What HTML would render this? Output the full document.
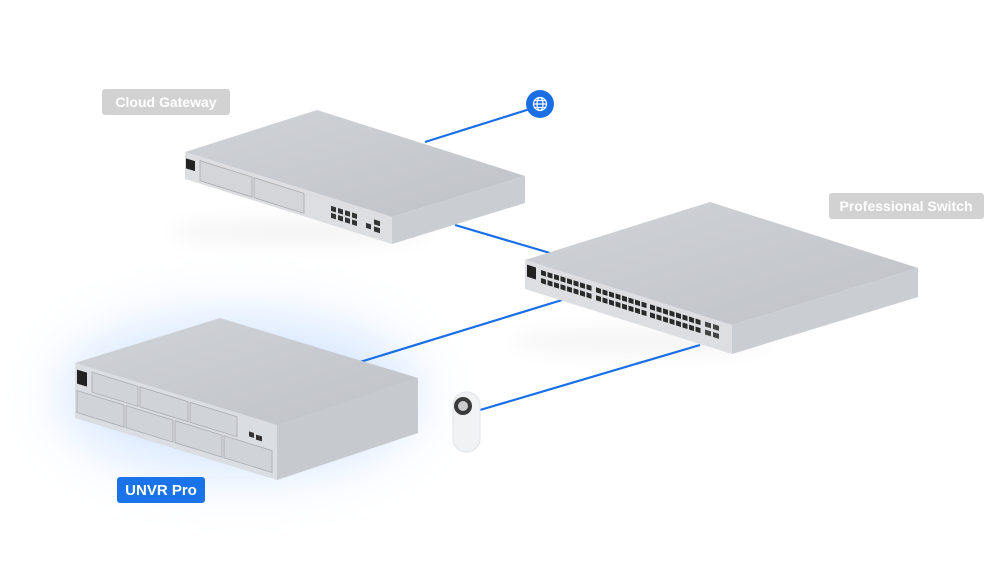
<!DOCTYPE html>
<html><head><meta charset="utf-8"><style>
html,body{margin:0;padding:0;background:#fff;}
svg{display:block}
.lbl{font-family:"Liberation Sans",sans-serif;font-weight:bold;font-size:14px;fill:#fff}
</style></head><body>
<svg width="1000" height="573" viewBox="0 0 1000 573" xmlns="http://www.w3.org/2000/svg">
<defs>
<filter id="b1" x="-50%" y="-50%" width="200%" height="200%"><feGaussianBlur stdDeviation="28"/></filter>
<filter id="b2" x="-50%" y="-50%" width="200%" height="200%"><feGaussianBlur stdDeviation="10"/></filter>
<linearGradient id="top" x1="0" y1="0" x2="1" y2="1"><stop offset="0" stop-color="#d0d3d7"/><stop offset="1" stop-color="#bfc2c7"/></linearGradient>
<g id="grp"><rect x="0" y="5" width="5" height="5"/><rect x="6.5" y="5" width="5" height="5"/><rect x="13" y="5" width="5" height="5"/><rect x="19.5" y="5" width="5" height="5"/><rect x="26" y="5" width="5" height="5"/><rect x="32.5" y="5" width="5" height="5"/><rect x="39" y="5" width="5" height="5"/><rect x="45.5" y="5" width="5" height="5"/>
<rect x="0" y="13" width="5" height="5"/><rect x="6.5" y="13" width="5" height="5"/><rect x="13" y="13" width="5" height="5"/><rect x="19.5" y="13" width="5" height="5"/><rect x="26" y="13" width="5" height="5"/><rect x="32.5" y="13" width="5" height="5"/><rect x="39" y="13" width="5" height="5"/><rect x="45.5" y="13" width="5" height="5"/></g>
</defs>
<!-- glow -->
<ellipse cx="240" cy="395" rx="180" ry="80" fill="#a8caff" opacity="0.45" filter="url(#b1)"/>
<!-- shadows -->
<ellipse cx="300" cy="232" rx="130" ry="14" fill="#000" opacity="0.04" filter="url(#b2)"/>
<ellipse cx="640" cy="342" rx="130" ry="14" fill="#000" opacity="0.04" filter="url(#b2)"/>
<!-- lines -->
<g stroke="#1a6fe6" stroke-width="2.2" fill="none">
<line x1="425" y1="142" x2="530" y2="109"/>
<line x1="455" y1="225" x2="550" y2="253"/>
<line x1="360" y1="362" x2="562" y2="300"/>
<line x1="480" y1="410" x2="700" y2="345"/>
</g>
<!-- globe -->
<circle cx="540" cy="104" r="14" fill="#1a6fe6"/>
<g stroke="#fff" stroke-width="1.2" fill="none"><circle cx="540" cy="104" r="6.5"/><ellipse cx="540" cy="104" rx="3" ry="6.5"/><line x1="533.5" y1="104" x2="546.5" y2="104"/><line x1="534.5" y1="100.5" x2="545.5" y2="100.5"/><line x1="534.5" y1="107.5" x2="545.5" y2="107.5"/></g>

<!-- Cloud Gateway -->
<polygon points="185,152 317,110 525,176 392,217" fill="url(#top)"/>
<polygon points="392,217 525,176 525,203 392,244" fill="#cacdd2"/>
<g transform="translate(185,152) matrix(1,0.314,0,1,0,0)">
<rect x="0" y="0" width="207" height="27" fill="#dcdee2"/>
<rect x="1" y="6" width="9" height="10" fill="#222"/>
<rect x="15" y="4" width="52" height="20" fill="#d3d5d9" stroke="#aaa" stroke-width="0.8"/>
<rect x="69" y="4" width="50" height="20" fill="#d3d5d9" stroke="#aaa" stroke-width="0.8"/>
<g fill="#333">
<rect x="146" y="8" width="5" height="5"/><rect x="153" y="8" width="5" height="5"/><rect x="160" y="8" width="5" height="5"/><rect x="167" y="8" width="5" height="5"/>
<rect x="146" y="15" width="5" height="5"/><rect x="153" y="15" width="5" height="5"/><rect x="160" y="15" width="5" height="5"/><rect x="167" y="15" width="5" height="5"/>
<rect x="181" y="14" width="5" height="5"/><rect x="189" y="8" width="6" height="5"/><rect x="189" y="15" width="6" height="5"/></g>
</g>
<!-- Switch -->
<polygon points="525,260 710,202 918,268 732,325" fill="url(#top)"/>
<polygon points="732,325 918,268 918,297 732,354" fill="#cacdd2"/>
<g transform="translate(525,260) matrix(1,0.314,0,1,0,0)">
<rect x="0" y="0" width="207" height="29" fill="#dcdee2"/>
<rect x="2" y="4" width="9" height="12" fill="#222"/>
<g fill="#2a2a2a" transform="translate(16,0)"><use href="#grp"/></g>
<g fill="#2a2a2a" transform="translate(71,0)"><use href="#grp"/></g>
<g fill="#2a2a2a" transform="translate(125,0)"><use href="#grp"/></g>
<g fill="#444"><rect x="180" y="5" width="6" height="5"/><rect x="188" y="5" width="6" height="5"/><rect x="180" y="13" width="6" height="5"/><rect x="188" y="13" width="6" height="5"/></g>
</g>
<!-- UNVR -->
<polygon points="75,363 220,318 418,378 277,425" fill="url(#top)"/>
<polygon points="277,425 418,378 418,433 277,480" fill="#c6c9ce"/>
<g transform="translate(75,363) matrix(1,0.307,0,1,0,0)">
<rect x="0" y="0" width="202" height="55" fill="#dadde1"/>
<rect x="2" y="6" width="10" height="14" fill="#222"/>
<g fill="#d0d3d7" stroke="#a8abb0" stroke-width="0.8">
<rect x="17" y="4" width="46" height="20"/><rect x="65" y="4" width="48" height="20"/><rect x="115" y="4" width="47" height="20"/>
<rect x="2" y="27" width="47" height="22"/><rect x="51" y="27" width="47" height="22"/><rect x="100" y="27" width="47" height="22"/><rect x="149" y="27" width="48" height="22"/></g>
<rect x="174" y="15" width="5" height="5" fill="#333"/><rect x="181" y="16" width="6" height="5" fill="#333"/>
</g>
<!-- camera -->
<rect x="453" y="392" width="27" height="60" rx="13" fill="#f1f2f4" stroke="#e2e4e7"/>
<circle cx="463" cy="406" r="9" fill="#3a3a3a"/><circle cx="463" cy="406" r="5" fill="#ccc"/>
<!-- labels -->
<rect x="102" y="89" width="128" height="26" rx="3" fill="#d2d2d2"/>
<text x="166" y="107" text-anchor="middle" class="lbl">Cloud Gateway</text>
<rect x="829" y="193" width="155" height="26" rx="3" fill="#d2d2d2"/>
<text x="906" y="211" text-anchor="middle" class="lbl">Professional Switch</text>
<rect x="117" y="477" width="88" height="26" rx="3" fill="#1a73e8"/>
<text x="161" y="495" text-anchor="middle" class="lbl" style="font-size:15px">UNVR Pro</text>
</svg>
</body></html>
